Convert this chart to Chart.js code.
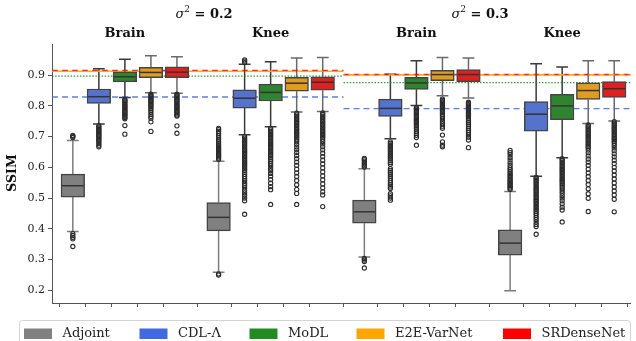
<!DOCTYPE html>
<html>
<head>
<meta charset="utf-8">
<script src="https://cdn.jsdelivr.net/npm/chart.js@4.4.1/dist/chart.umd.min.js"></script>
<style>
  html, body { margin: 0; padding: 0; background: #fff; }
  canvas { display: block; }
</style>
</head>
<body>
<canvas id="chart" width="636" height="341"></canvas>
<script>
// --- data ---
const methods = ['Adjoint', 'CDL-Λ', 'MoDL', 'E2E-VarNet', 'SRDenseNet'];
const anatomies = ['Brain', 'Knee', 'Brain', 'Knee'];
const noiseLevels = ['0.2', '0.3'];
const yTickValues = [0.2, 0.3, 0.4, 0.5, 0.6, 0.7, 0.8, 0.9];

// [lower whisker, q1, median, q3, upper whisker] for each group
const adjointBoxes = [
  [0.391, 0.503, 0.540, 0.578, 0.687],
  [0.258, 0.393, 0.437, 0.485, 0.620],
  [0.308, 0.418, 0.455, 0.493, 0.595],
  [0.198, 0.314, 0.353, 0.396, 0.521]
];
const cdlBoxes = [
  [0.741, 0.808, 0.830, 0.855, 0.921],
  [0.706, 0.793, 0.825, 0.852, 0.936],
  [0.693, 0.766, 0.792, 0.822, 0.903],
  [0.571, 0.718, 0.773, 0.814, 0.937]
];
const modlBoxes = [
  [0.827, 0.878, 0.895, 0.911, 0.952],
  [0.732, 0.816, 0.844, 0.871, 0.944],
  [0.801, 0.854, 0.875, 0.893, 0.947],
  [0.631, 0.755, 0.800, 0.838, 0.927]
];
const e2eBoxes = [
  [0.843, 0.892, 0.909, 0.926, 0.963],
  [0.780, 0.848, 0.874, 0.893, 0.956],
  [0.833, 0.882, 0.902, 0.916, 0.958],
  [0.743, 0.821, 0.850, 0.875, 0.947]
];
const srdBoxes = [
  [0.841, 0.892, 0.910, 0.927, 0.960],
  [0.782, 0.851, 0.877, 0.895, 0.958],
  [0.826, 0.879, 0.902, 0.918, 0.956],
  [0.751, 0.828, 0.856, 0.879, 0.947]
];

// outliers (fliers) per group
const adjointOutliers = [
  [0.697, 0.701, 0.704, 0.384, 0.378, 0.372, 0.367, 0.342],
  [0.626, 0.630, 0.634, 0.638, 0.642, 0.646, 0.650, 0.654, 0.658, 0.662, 0.667, 0.672, 0.677, 0.683, 0.689, 0.696, 0.703, 0.710, 0.717, 0.723, 0.727, 0.253, 0.249],
  [0.601, 0.605, 0.610, 0.615, 0.620, 0.625, 0.629, 0.303, 0.298, 0.293, 0.272],
  [0.528, 0.532, 0.536, 0.540, 0.544, 0.548, 0.552, 0.556, 0.560, 0.565, 0.570, 0.575, 0.580, 0.586, 0.592, 0.598, 0.606, 0.614, 0.624, 0.632, 0.641, 0.648, 0.655]
];
const cdlOutliers = [
  [0.736, 0.732, 0.728, 0.724, 0.720, 0.716, 0.712, 0.708, 0.704, 0.700, 0.696, 0.692, 0.688, 0.683, 0.678, 0.672, 0.667],
  [0.941, 0.946, 0.950, 0.700, 0.695, 0.690, 0.685, 0.680, 0.675, 0.670, 0.665, 0.660, 0.655, 0.650, 0.645, 0.640, 0.635, 0.630, 0.625, 0.620, 0.615, 0.610, 0.605, 0.600, 0.595, 0.590, 0.584, 0.577, 0.570, 0.563, 0.556, 0.548, 0.541, 0.533, 0.525, 0.517, 0.509, 0.500, 0.491, 0.447],
  [0.683, 0.678, 0.673, 0.668, 0.663, 0.658, 0.653, 0.648, 0.643, 0.638, 0.633, 0.628, 0.622, 0.616, 0.610, 0.596, 0.590, 0.584, 0.578, 0.571, 0.564, 0.557, 0.550, 0.543, 0.536, 0.531, 0.514, 0.507, 0.500, 0.493],
  [0.567, 0.562, 0.557, 0.552, 0.547, 0.542, 0.537, 0.532, 0.527, 0.522, 0.517, 0.512, 0.507, 0.502, 0.497, 0.492, 0.487, 0.482, 0.477, 0.472, 0.467, 0.462, 0.456, 0.450, 0.444, 0.437, 0.430, 0.422, 0.414, 0.407, 0.382]
];
const modlOutliers = [
  [0.822, 0.818, 0.814, 0.810, 0.806, 0.802, 0.798, 0.794, 0.790, 0.786, 0.782, 0.778, 0.774, 0.770, 0.766, 0.762, 0.758, 0.736, 0.708],
  [0.727, 0.722, 0.717, 0.712, 0.707, 0.702, 0.697, 0.692, 0.687, 0.682, 0.677, 0.672, 0.667, 0.662, 0.657, 0.652, 0.647, 0.642, 0.637, 0.631, 0.625, 0.619, 0.612, 0.605, 0.597, 0.589, 0.580, 0.571, 0.560, 0.548, 0.537, 0.527, 0.479],
  [0.794, 0.790, 0.786, 0.782, 0.778, 0.774, 0.770, 0.766, 0.762, 0.758, 0.754, 0.750, 0.746, 0.741, 0.736, 0.731, 0.725, 0.718, 0.711, 0.704, 0.697, 0.672],
  [0.628, 0.623, 0.618, 0.613, 0.608, 0.603, 0.598, 0.593, 0.588, 0.583, 0.578, 0.573, 0.568, 0.563, 0.558, 0.553, 0.548, 0.542, 0.536, 0.530, 0.523, 0.516, 0.508, 0.500, 0.491, 0.481, 0.470, 0.461, 0.422]
];
const e2eOutliers = [
  [0.838, 0.834, 0.830, 0.826, 0.822, 0.818, 0.814, 0.810, 0.806, 0.801, 0.797, 0.792, 0.786, 0.780, 0.773, 0.766, 0.760, 0.748, 0.717],
  [0.776, 0.771, 0.766, 0.761, 0.756, 0.751, 0.746, 0.741, 0.736, 0.731, 0.726, 0.721, 0.716, 0.711, 0.706, 0.701, 0.696, 0.690, 0.683, 0.675, 0.666, 0.657, 0.648, 0.638, 0.628, 0.617, 0.606, 0.594, 0.582, 0.570, 0.557, 0.543, 0.528, 0.515, 0.479],
  [0.822, 0.818, 0.814, 0.810, 0.806, 0.802, 0.798, 0.794, 0.790, 0.786, 0.782, 0.777, 0.771, 0.765, 0.758, 0.750, 0.742, 0.734, 0.727, 0.705, 0.683, 0.672, 0.667],
  [0.738, 0.733, 0.728, 0.723, 0.718, 0.713, 0.708, 0.703, 0.698, 0.693, 0.688, 0.683, 0.678, 0.673, 0.668, 0.663, 0.656, 0.647, 0.637, 0.627, 0.617, 0.606, 0.594, 0.582, 0.570, 0.557, 0.544, 0.530, 0.514, 0.499, 0.456]
];
const srdOutliers = [
  [0.838, 0.834, 0.830, 0.826, 0.822, 0.818, 0.814, 0.810, 0.806, 0.802, 0.798, 0.794, 0.790, 0.786, 0.782, 0.778, 0.774, 0.770, 0.767, 0.735, 0.711],
  [0.777, 0.772, 0.767, 0.762, 0.757, 0.752, 0.747, 0.742, 0.737, 0.732, 0.727, 0.722, 0.717, 0.712, 0.707, 0.702, 0.697, 0.691, 0.684, 0.676, 0.667, 0.657, 0.646, 0.635, 0.623, 0.611, 0.598, 0.585, 0.572, 0.559, 0.546, 0.533, 0.520, 0.510, 0.472],
  [0.812, 0.808, 0.804, 0.800, 0.796, 0.792, 0.788, 0.784, 0.780, 0.776, 0.772, 0.768, 0.764, 0.758, 0.752, 0.746, 0.740, 0.734, 0.727, 0.720, 0.713, 0.706, 0.698, 0.689, 0.664],
  [0.749, 0.744, 0.739, 0.734, 0.729, 0.724, 0.719, 0.714, 0.709, 0.704, 0.699, 0.694, 0.689, 0.684, 0.678, 0.671, 0.663, 0.654, 0.644, 0.634, 0.623, 0.612, 0.600, 0.588, 0.575, 0.562, 0.549, 0.536, 0.523, 0.510, 0.496, 0.455]
];

// reference levels (one per noise level), drawn as horizontal lines
const refCDL = [0.829, 0.791];
const refMoDL = [0.897, 0.876];
const refE2E = [0.913, 0.901];
const refSRD = [0.915, 0.902];

// --- styling ---
const boxSets = [adjointBoxes, cdlBoxes, modlBoxes, e2eBoxes, srdBoxes];
const outlierSets = [adjointOutliers, cdlOutliers, modlOutliers, e2eOutliers, srdOutliers];
const boxFills = ['#808080', '#5573cd', '#2f852f', '#df9c20', '#df2020'];
const legendColors = ['#808080', '#4169e1', '#228b22', '#ffa500', '#ff0000'];
const whiskerColors = ['#7d7d7d', '#3a3a3a', '#3a3a3a', '#6a6a6a', '#6a6a6a'];
const edgeColor = '#444';
const SERIF = '"DejaVu Serif", serif';
const GROUP_STEP = 5.6;   // 5 boxes + margins per subplot
const BOX_W = 23.6;       // px

function boxX(g, m) { return g * GROUP_STEP + m; }

const tickPositions = [];
anatomies.forEach((_, g) => methods.forEach((_, m) => tickPositions.push(boxX(g, m))));

function refLine(values, color, dash, offset, width) {
  const data = [];
  values.forEach((v, k) => {
    data.push({ x: k * 2 * GROUP_STEP - 0.8, y: v });
    data.push({ x: k * 2 * GROUP_STEP + GROUP_STEP * 2 - 0.8, y: v });
    data.push({ x: k * 2 * GROUP_STEP + GROUP_STEP * 2 - 0.8, y: null });
  });
  return {
    type: 'line', data, borderColor: color, borderWidth: width,
    borderDash: dash, borderDashOffset: offset, pointRadius: 0,
    spanGaps: false, order: 20
  };
}

const datasets = [
  refLine(refCDL, 'rgba(65,105,225,0.85)', [6, 4], 0, 1.4),
  refLine(refMoDL, 'rgba(34,139,34,0.9)', [1.5, 1.6], 0, 1.3),
  refLine(refE2E, 'rgba(255,165,0,0.9)', [6, 4], 5, 1.6),
  refLine(refSRD, 'rgba(255,0,0,0.85)', [6, 4], 0, 1.6)
];

methods.forEach((name, m) => {
  datasets.push({
    type: 'bar',
    label: name,
    data: boxSets[m].map((b, g) => ({ x: boxX(g, m), y: [b[1], b[3]] })),
    backgroundColor: boxFills[m],
    borderColor: edgeColor,
    borderWidth: 1.5,
    borderSkipped: false,
    barThickness: BOX_W,
    grouped: false,
    order: 10
  });
});

methods.forEach((name, m) => {
  const pts = [];
  outlierSets[m].forEach((list, g) => list.forEach(v => pts.push({ x: boxX(g, m), y: v })));
  datasets.push({
    type: 'scatter',
    label: name + ' outliers',
    data: pts,
    pointRadius: 2.1,
    pointBorderWidth: 1.1,
    borderColor: '#2c2c2c',
    backgroundColor: 'rgba(255,255,255,0)',
    order: 1
  });
});

// whiskers, caps and medians
const boxPlotLines = {
  id: 'boxPlotLines',
  beforeDatasetsDraw(chart) {
    const { ctx, scales: { x, y } } = chart;
    ctx.save();
    ctx.lineWidth = 1.5;
    boxSets.forEach((boxes, m) => {
      ctx.strokeStyle = whiskerColors[m];
      boxes.forEach((b, g) => {
        const px = x.getPixelForValue(boxX(g, m));
        const lo = y.getPixelForValue(b[0]), q1 = y.getPixelForValue(b[1]);
        const q3 = y.getPixelForValue(b[3]), hi = y.getPixelForValue(b[4]);
        ctx.beginPath();
        ctx.moveTo(px, q1); ctx.lineTo(px, lo);
        ctx.moveTo(px, q3); ctx.lineTo(px, hi);
        ctx.moveTo(px - BOX_W / 4, lo); ctx.lineTo(px + BOX_W / 4, lo);
        ctx.moveTo(px - BOX_W / 4, hi); ctx.lineTo(px + BOX_W / 4, hi);
        ctx.stroke();
      });
    });
    ctx.restore();
  },
  afterDatasetsDraw(chart) {
    const { ctx, scales: { x, y } } = chart;
    ctx.save();
    ctx.lineWidth = 1.5;
    ctx.strokeStyle = '#333';
    boxSets.forEach((boxes, m) => {
      boxes.forEach((b, g) => {
        const px = x.getPixelForValue(boxX(g, m));
        const md = y.getPixelForValue(b[2]);
        ctx.beginPath();
        ctx.moveTo(px - BOX_W / 2 + 1, md); ctx.lineTo(px + BOX_W / 2 - 1, md);
        ctx.stroke();
      });
    });
    ctx.restore();
  }
};

// titles, axis label, legend
const decorations = {
  id: 'decorations',
  afterDraw(chart) {
    const { ctx, scales: { x } } = chart;
    ctx.save();
    ctx.fillStyle = '#111';
    ctx.textBaseline = 'middle';

    // sigma^2 titles
    const titleCenters = [204, 480];
    noiseLevels.forEach((lvl, k) => {
      const parts = [
        { t: 'σ', f: 'italic 13px ' + SERIF, dy: 0 },
        { t: '2', f: '9px ' + SERIF, dy: -5 },
        { t: ' = ' + lvl, f: 'bold 13px ' + SERIF, dy: 0 }
      ];
      let total = 0;
      parts.forEach(p => { ctx.font = p.f; p.w = ctx.measureText(p.t).width; total += p.w; });
      let cx = titleCenters[k] - total / 2;
      ctx.textAlign = 'left';
      parts.forEach(p => { ctx.font = p.f; ctx.fillText(p.t, cx, 15 + p.dy); cx += p.w; });
    });

    // anatomy subtitles centred over the middle box
    ctx.font = 'bold 13px ' + SERIF;
    ctx.textAlign = 'center';
    anatomies.forEach((a, g) => ctx.fillText(a, x.getPixelForValue(boxX(g, 2)), 34));

    // y label
    ctx.save();
    ctx.translate(13, 173);
    ctx.rotate(-Math.PI / 2);
    ctx.font = 'bold 12.5px ' + SERIF;
    ctx.fillText('SSIM', 0, 0);
    ctx.restore();

    // legend
    const lx = 19.5, ly = 320.5, lw = 611, lh = 24;
    ctx.beginPath();
    ctx.roundRect(lx, ly, lw, lh, 3);
    ctx.fillStyle = 'rgba(255,255,255,0.85)';
    ctx.fill();
    ctx.strokeStyle = '#d4d4d4';
    ctx.lineWidth = 1;
    ctx.stroke();
    const textX = [62.5, 178, 288, 395, 541.5];
    ctx.font = '13px ' + SERIF;
    ctx.textAlign = 'left';
    methods.forEach((name, m) => {
      ctx.fillStyle = legendColors[m];
      ctx.fillRect(textX[m] - 38.5, 328.5, 28, 10.5);
      ctx.fillStyle = '#222';
      ctx.fillText(name, textX[m], 334);
    });
    ctx.restore();
  }
};

new Chart(document.getElementById('chart'), {
  type: 'bar',
  data: { datasets },
  options: {
    responsive: false,
    devicePixelRatio: 1,
    animation: false,
    layout: { padding: { top: 44.5, right: 0, bottom: 0, left: 0 } },
    plugins: { legend: { display: false }, tooltip: { enabled: false }, title: { display: false } },
    scales: {
      x: {
        type: 'linear',
        min: -0.8,
        max: 21.44,
        offset: false,
        afterBuildTicks: s => { s.ticks = tickPositions.map(v => ({ value: v })); },
        afterFit: s => { s.height = 38; },
        ticks: { autoSkip: false, callback: () => '', font: { size: 1 } },
        grid: { drawOnChartArea: false, drawTicks: true, tickLength: 4, color: '#555', lineWidth: 1 },
        border: { display: true, color: '#555', width: 1 }
      },
      y: {
        type: 'linear',
        min: 0.158,
        max: 1.0,
        afterBuildTicks: s => { s.ticks = yTickValues.map(v => ({ value: v })); },
        afterFit: s => { s.width = 52; },
        ticks: {
          callback: v => Number(v).toFixed(1),
          font: { family: SERIF, size: 11 },
          color: '#222',
          padding: 3
        },
        grid: { drawOnChartArea: false, drawTicks: true, tickLength: 4, color: '#555', lineWidth: 1 },
        border: { display: true, color: '#555', width: 1 }
      }
    }
  },
  plugins: [boxPlotLines, decorations]
});
</script>
</body>
</html>
